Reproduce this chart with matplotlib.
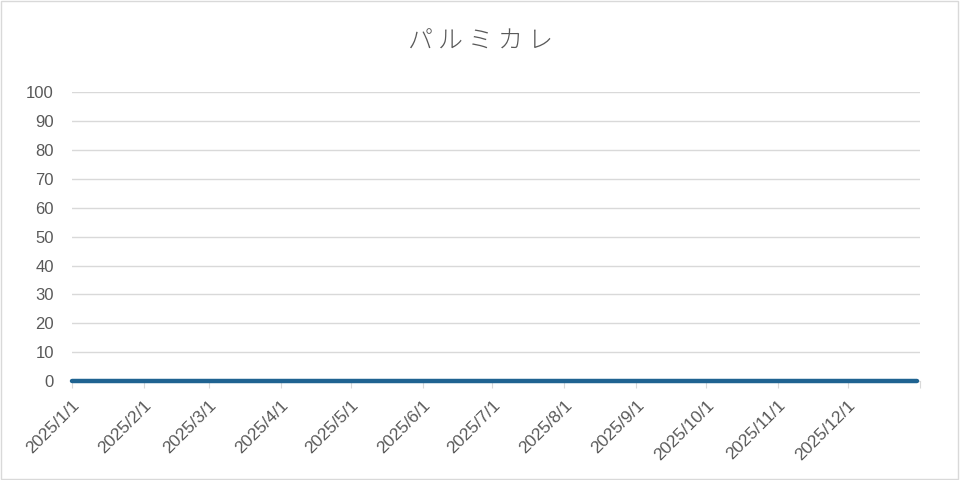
import matplotlib
matplotlib.use('Agg')
import matplotlib.pyplot as plt
import pandas as pd

plt.rcParams['font.family'] = ['Noto Sans CJK JP', 'DejaVu Sans']

# data: daily values over 2025, all zero
dates = pd.date_range('2025-01-01', '2025-12-31', freq='D')
values = [0] * len(dates)
title = 'パルミカレ'
month_ticks = pd.date_range('2025-01-01', '2025-12-01', freq='MS')
tick_labels = [f'{d.year}/{d.month}/{d.day}' for d in month_ticks]

gray = '#595959'
grid = '#d9d9d9'

fig = plt.figure(figsize=(9.6, 4.8), dpi=100)
fig.patch.set_facecolor('white')
ax = fig.add_axes([0.075, 0.206, 0.883, 0.602])

ax.plot(dates, values, color='#1f6391', linewidth=3.2, solid_capstyle='round',
        zorder=3, clip_on=False)

ax.set_xlim(pd.Timestamp('2025-01-01'), pd.Timestamp('2026-01-01'))
ax.set_ylim(0, 100)
ax.set_yticks(range(0, 101, 10))
ax.yaxis.grid(True, color=grid, linewidth=1)
ax.set_axisbelow(True)

ax.set_xticks(list(month_ticks) + [pd.Timestamp('2026-01-01')])
ax.set_xticklabels(tick_labels + [''], rotation=45, ha='right', rotation_mode='anchor')

for s in ['top', 'right', 'left']:
    ax.spines[s].set_visible(False)
ax.spines['bottom'].set_color(grid)
ax.tick_params(axis='y', length=0, pad=13, labelcolor=gray, labelsize=12)
ax.tick_params(axis='x', length=5, color=grid, pad=7, labelcolor=gray, labelsize=12.5)
for lab in ax.get_yticklabels() + ax.get_xticklabels():
    lab.set_family(['Liberation Sans', 'DejaVu Sans'])

# spaced title, light weight
fig.text(0.5, 0.913, '\u2009'.join(title), ha='center', va='center', fontsize=18,
         color=gray, fontweight='light')

# outer border
fig.add_artist(plt.Rectangle((0.001, 0.002), 0.997, 0.996, transform=fig.transFigure,
                             fill=False, edgecolor=grid, linewidth=1))

fig.savefig('out.png', dpi=100, facecolor='white')
